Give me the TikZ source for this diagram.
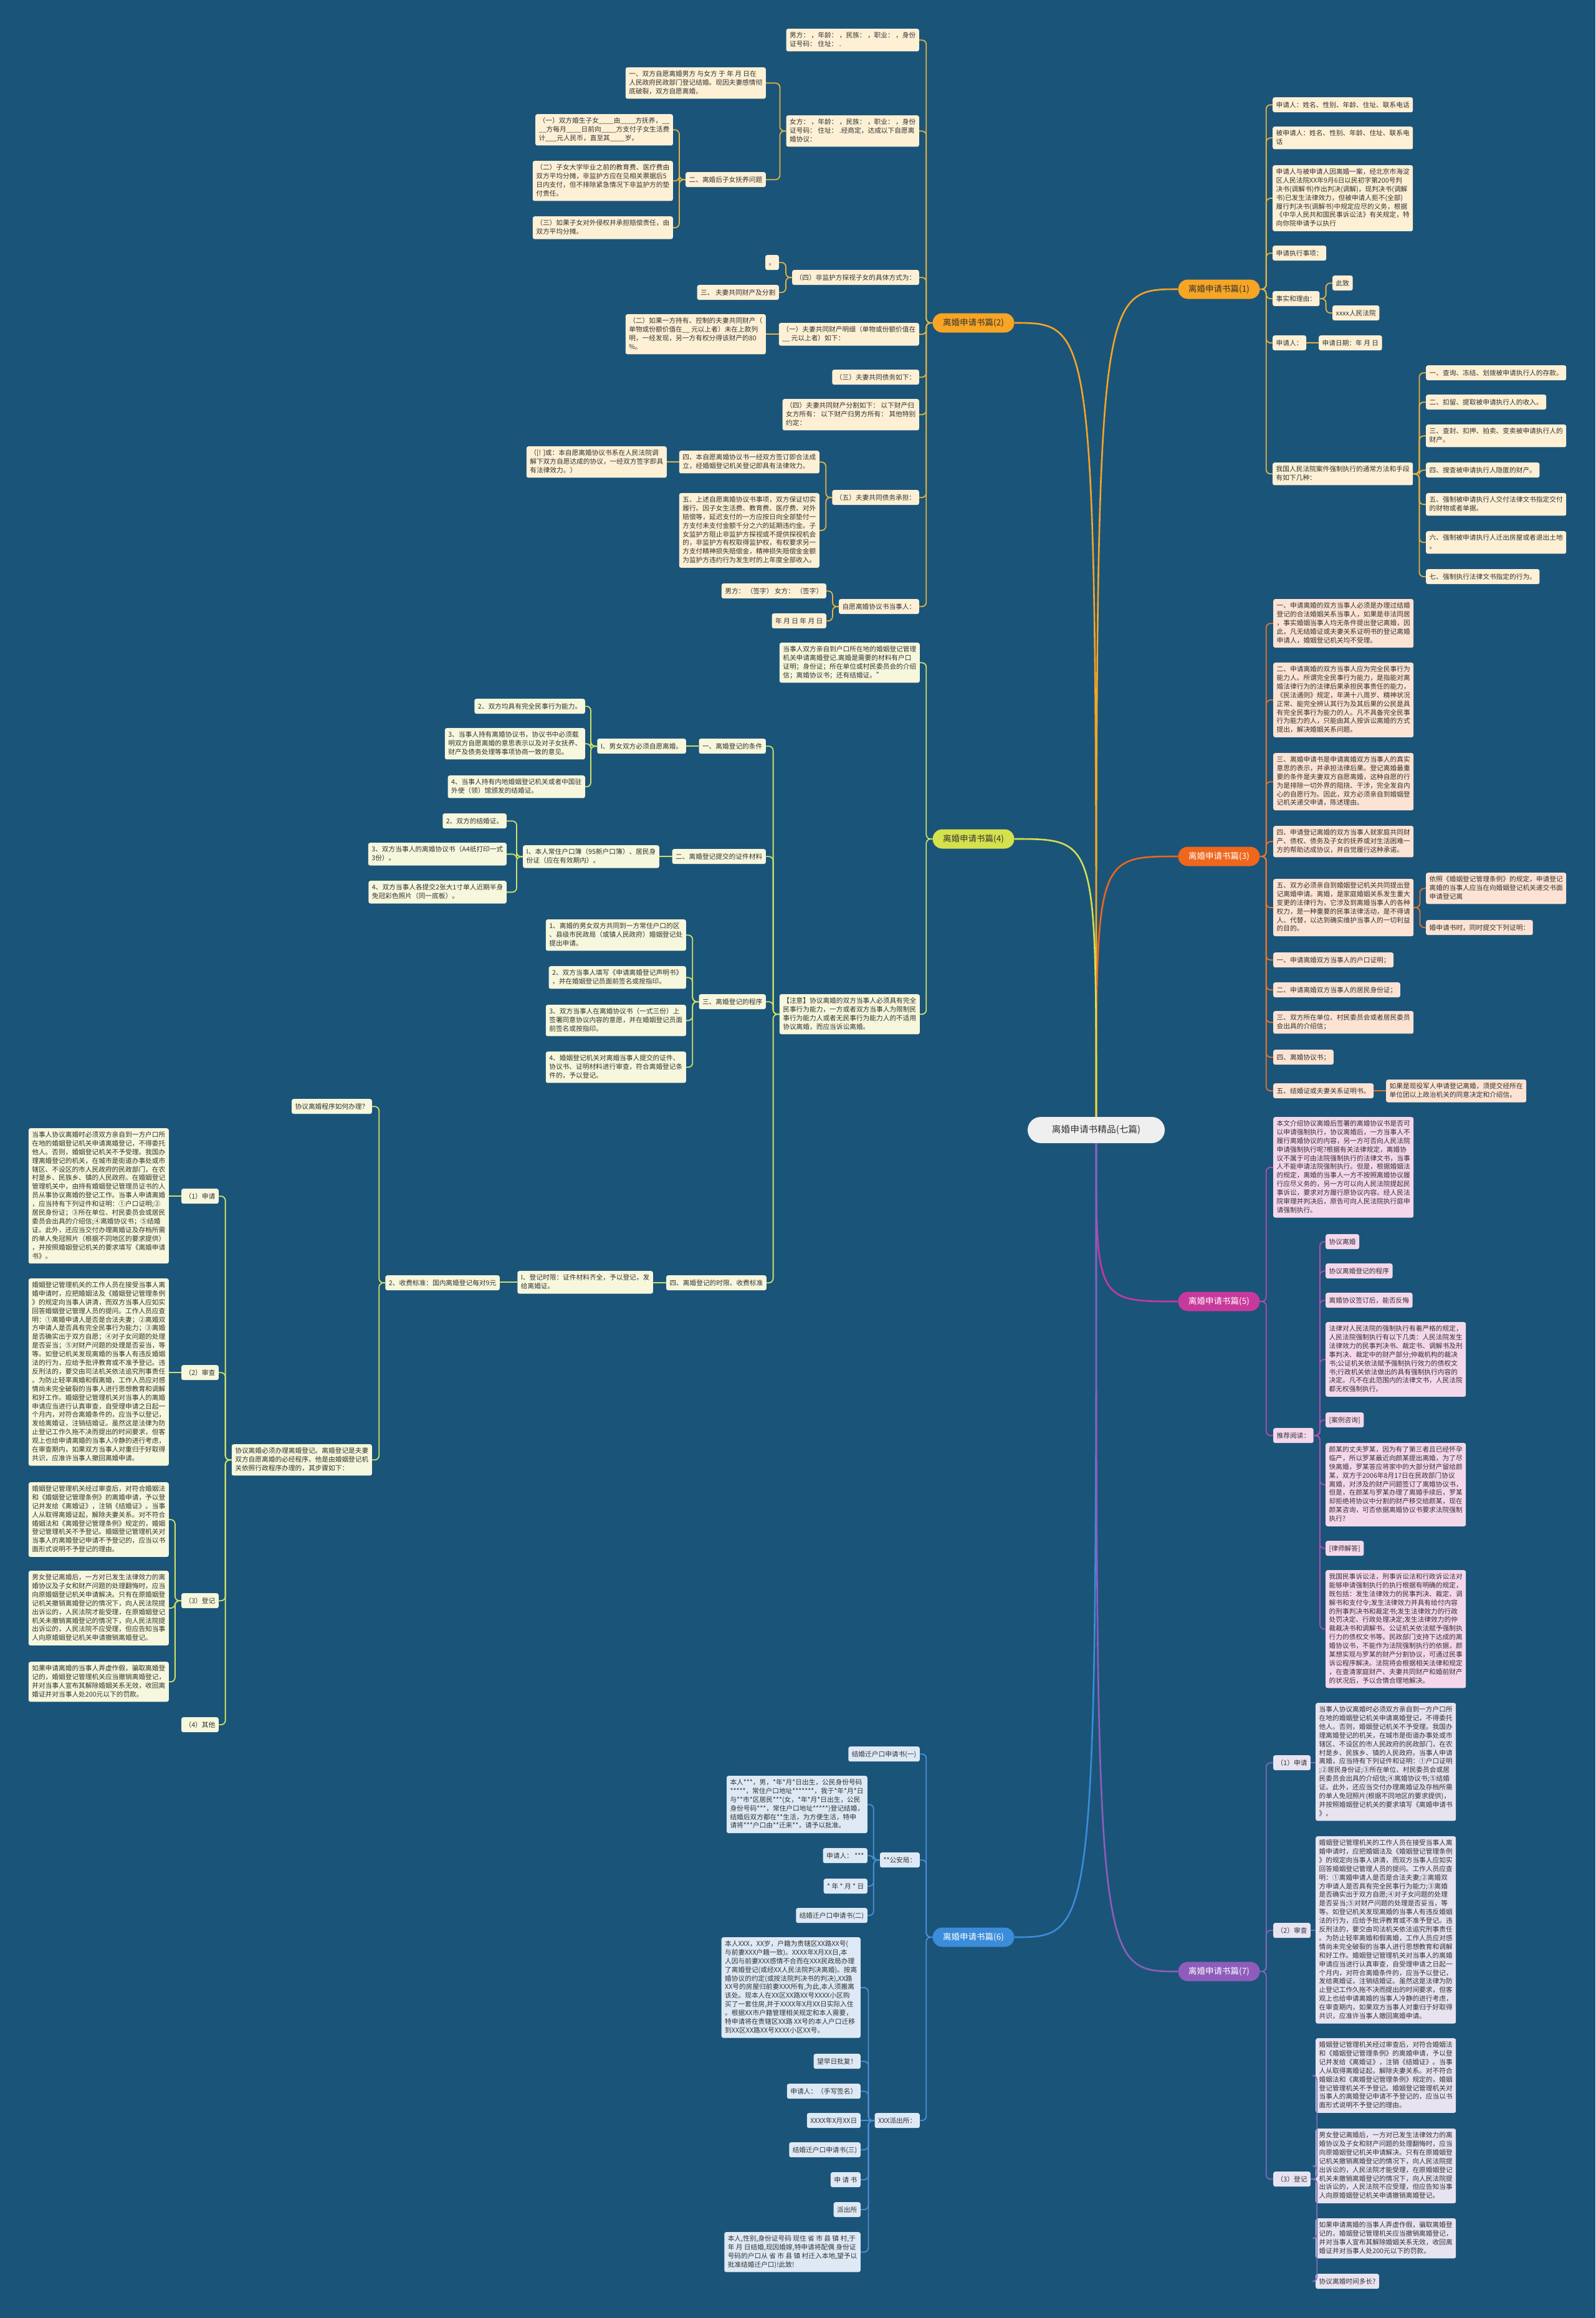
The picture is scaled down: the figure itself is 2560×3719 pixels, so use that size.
\documentclass[tikz,border=0pt]{standalone}
\usepackage{fontspec}
\newfontfamily\cjk{Noto Sans CJK SC}
\definecolor{bg}{HTML}{1B5479}
\definecolor{txt}{HTML}{333333}
\definecolor{rootf}{HTML}{EFEFEF}
\definecolor{o1}{HTML}{F6A524}
\definecolor{cr1}{HTML}{FDF0D5}
\definecolor{ln1}{HTML}{E5B33E}
\definecolor{o3}{HTML}{EE671C}
\definecolor{cr3}{HTML}{FCE3D3}
\definecolor{ln3}{HTML}{E8742B}
\definecolor{o4}{HTML}{D5E14D}
\definecolor{cr4}{HTML}{F6F7DC}
\definecolor{ln4}{HTML}{CDE264}
\definecolor{o5}{HTML}{C8399C}
\definecolor{cr5}{HTML}{F5D7EC}
\definecolor{ln5}{HTML}{B54DAE}
\definecolor{o6}{HTML}{3B8CDA}
\definecolor{cr6}{HTML}{DDE9F5}
\definecolor{ln6}{HTML}{4A90D9}
\definecolor{o7}{HTML}{8E5DBB}
\definecolor{cr7}{HTML}{E8E3F1}
\definecolor{ln7}{HTML}{7D6CB7}
\newcommand\cR[3]{\foreach \ch in {#3}{\draw[#1] (#2.east) -- ++(10,0) |- (\ch.west);}}
\newcommand\cL[3]{\foreach \ch in {#3}{\draw[#1] (#2.west) -- ++(-10,0) |- (\ch.east);}}
\newcommand\sR[3]{\draw[#1] (#2.east) -- (#2.east -| #3.west);}
\newcommand\sL[3]{\draw[#1] (#2.west) -- (#2.west -| #3.east);}
\tikzset{
  bx/.style={font=\cjk\fontsize{10.7}{13.9}\selectfont, text=txt, rounded corners=3pt,
    inner xsep=5.5pt, inner ysep=5.2pt, align=left,
    execute at begin node={\rule[-2.9pt]{0pt}{13.5pt}},
    execute at end node={\rule[-2.9pt]{0pt}{13.5pt}}},
  k1/.style={bx, fill=cr1}, k3/.style={bx, fill=cr3}, k4/.style={bx, fill=cr4},
  k5/.style={bx, fill=cr5}, k6/.style={bx, fill=cr6}, k7/.style={bx, fill=cr7},
  brn/.style={font=\cjk\fontsize{13.5}{15}\selectfont, rounded corners=15.5pt,
    minimum width=131pt, minimum height=31pt, inner sep=0pt},
  rootst/.style={font=\cjk\fontsize{14.7}{17}\selectfont, fill=rootf, text=txt,
    rounded corners=21pt, minimum width=220pt, minimum height=42pt, inner sep=0pt},
  e1/.style={draw=ln1, line width=1.8pt, rounded corners=7pt},
  e3/.style={draw=ln3, line width=1.8pt, rounded corners=7pt},
  e4/.style={draw=ln4, line width=1.8pt, rounded corners=7pt},
  e5/.style={draw=ln5, line width=1.8pt, rounded corners=7pt},
  e6/.style={draw=ln6, line width=1.8pt, rounded corners=7pt},
  e7/.style={draw=ln7, line width=1.8pt, rounded corners=7pt},
  mainln/.style={line width=2.6pt},
}
\begin{document}
\begin{tikzpicture}[x=1pt,y=-1pt]
\useasboundingbox (0,0) rectangle (2560,3719);
\fill[bg] (0,0) rectangle (2560,3719);

% ---------- root and branches ----------
\node[rootst] (root) at (1759,1813) {离婚申请书精品(七篇)};
\node[brn, fill=o1, text=txt] (n1) at (1956,464) {离婚申请书篇(1)};
\node[brn, fill=o1, text=txt] (n2) at (1562,518) {离婚申请书篇(2)};
\node[brn, fill=o3, text=white] (n3) at (1956,1374) {离婚申请书篇(3)};
\node[brn, fill=o4, text=txt] (n4) at (1562,1346) {离婚申请书篇(4)};
\node[brn, fill=o5, text=white] (n5) at (1956,2088) {离婚申请书篇(5)};
\node[brn, fill=o6, text=white] (n6) at (1562,3108) {离婚申请书篇(6)};
\node[brn, fill=o7, text=white] (n7) at (1956,3163) {离婚申请书篇(7)};

\draw[mainln, o1] (root.north) .. controls (root.north |- n1.west) .. (n1.west);
\draw[mainln, o1] (root.north) .. controls (root.north |- n2.east) .. (n2.east);
\draw[mainln, o3] (root.north) .. controls (root.north |- n3.west) .. (n3.west);
\draw[mainln, o4] (root.north) .. controls (root.north |- n4.east) .. (n4.east);
\draw[mainln, o5] (root.south) .. controls (root.south |- n5.west) .. (n5.west);
\draw[mainln, o6] (root.south) .. controls (root.south |- n6.east) .. (n6.east);
\draw[mainln, o7] (root.south) .. controls (root.south |- n7.west) .. (n7.west);

% ---------- branch 1 ----------
\node[k1, anchor=north west] (n1a) at (2042,156) {申请人：姓名、性别、年龄、住址、联系电话};
\node[k1, anchor=north west] (n1b) at (2042,203) {被申请人：姓名、性别、年龄、住址、联系电\\话};
\node[k1, anchor=north west] (n1c) at (2042,265) {申请人与被申请人因离婚一案，经北京市海淀\\区人民法院XX年9月6日以民初字第200号判\\决书(调解书)作出判决(调解)，现判决书(调解\\书)已发生法律效力，但被申请人拒不(全部)\\履行判决书(调解书)中规定应尽的义务，根据\\《中华人民共和国民事诉讼法》有关规定，特\\向你院申请予以执行};
\node[k1, anchor=north west] (n1d) at (2042,394) {申请执行事项：};
\node[k1, anchor=north west] (n1e) at (2042,467) {事实和理由：};
\node[k1, anchor=north west] (n1e1) at (2138,442) {此致};
\node[k1, anchor=north west] (n1e2) at (2138,490) {xxxx人民法院};
\node[k1, anchor=north west] (n1f) at (2042,538) {申请人：};
\node[k1, anchor=north west] (n1f1) at (2116,538) {申请日期：年 月 日};
\node[k1, anchor=north west] (n1g) at (2042,742) {我国人民法院案件强制执行的通常方法和手段\\有如下几种：};
\node[k1, anchor=north west] (n1g1) at (2288,586) {一、查询、冻结、划拨被申请执行人的存款。};
\node[k1, anchor=north west] (n1g2) at (2288,633) {二、扣留、提取被申请执行人的收入。};
\node[k1, anchor=north west] (n1g3) at (2288,681) {三、查封、扣押、拍卖、变卖被申请执行人的\\财产。};
\node[k1, anchor=north west] (n1g4) at (2288,742) {四、搜查被申请执行人隐匿的财产。};
\node[k1, anchor=north west] (n1g5) at (2288,791) {五、强制被申请执行人交付法律文书指定交付\\的财物或者单据。};
\node[k1, anchor=north west] (n1g6) at (2288,852) {六、强制被申请执行人迁出房屋或者退出土地\\。};
\node[k1, anchor=north west] (n1g7) at (2288,913) {七、强制执行法律文书指定的行为。};
\cR{e1}{n1}{n1a,n1b,n1c,n1d,n1e,n1f,n1g}
\cR{e1}{n1e}{n1e1,n1e2}
\sR{e1}{n1f}{n1f1}
\cR{e1}{n1g}{n1g1,n1g2,n1g3,n1g4,n1g5,n1g6,n1g7}

% ---------- branch 2 ----------
\node[k1, anchor=north east] (n2a) at (1475,46) {男方： ，年龄： ，民族： ，职业： ，身份\\证号码： 住址： .};
\node[k1, anchor=north east] (n2b) at (1475,185) {女方： ，年龄： ，民族： ，职业： ，身份\\证号码： 住址： .经商定，达成以下自愿离\\婚协议：};
\node[k1, anchor=north east] (n2b1) at (1229,108) {一、双方自愿离婚男方 与女方 于 年 月 日在\\人民政府民政部门登记结婚。现因夫妻感情彻\\底破裂，双方自愿离婚。};
\node[k1, anchor=north east] (n2b2) at (1229,276) {二、离婚后子女抚养问题};
\node[k1, anchor=north east] (n2b2a) at (1080,183) {（一）双方婚生子女\_\_\_\_由\_\_\_\_方抚养，\_\_\\\_\_方每月\_\_\_\_日前向\_\_\_\_方支付子女生活费\\计\_\_\_元人民币，直至其\_\_\_\_岁。};
\node[k1, anchor=north east] (n2b2b) at (1080,258) {（二）子女大学毕业之前的教育费、医疗费由\\双方平均分摊，非监护方应在见相关票据后5\\日内支付，但不排除紧急情况下非监护方的垫\\付责任。};
\node[k1, anchor=north east] (n2b2c) at (1080,347) {（三）如果子女对外侵权并承担赔偿责任，由\\双方平均分摊。};
\node[k1, anchor=north east] (n2c) at (1475,433) {（四）非监护方探视子女的具体方式为：};
\node[k1, anchor=north east] (n2c1) at (1250,409) {。};
\node[k1, anchor=north east] (n2c2) at (1250,457) {三、 夫妻共同财产及分割};
\node[k1, anchor=north east] (n2d) at (1475,518) {（一）夫妻共同财产明细（单物或份额价值在\\\_\_ 元以上者）如下：};
\node[k1, anchor=north east] (n2d1) at (1229,504) {（二）如果一方持有、控制的夫妻共同财产（\\单物或份额价值在\_\_ 元以上者）未在上款列\\明，一经发现，另一方有权分得该财产的80\\\%。};
\node[k1, anchor=north east] (n2e) at (1475,593) {（三）夫妻共同债务如下：};
\node[k1, anchor=north east] (n2f) at (1475,640) {（四）夫妻共同财产分割如下： 以下财产归\\女方所有： 以下财产归男方所有： 其他特别\\约定：};
\node[k1, anchor=north east] (n2g) at (1475,786) {（五）夫妻共同债务承担：};
\node[k1, anchor=north east] (n2g1) at (1315,723) {四、本自愿离婚协议书一经双方签订即合法成\\立，经婚姻登记机关登记即具有法律效力。};
\node[k1, anchor=north east] (n2g1a) at (1070,716) {（[! ]或：本自愿离婚协议书系在人民法院调\\解下双方自愿达成的协议，一经双方签字即具\\有法律效力。）};
\node[k1, anchor=north east] (n2g2) at (1315,791) {五、上述自愿离婚协议书事项，双方保证切实\\履行。因子女生活费、教育费、医疗费、对外\\赔偿等，延迟支付的一方应按日向全部垫付一\\方支付未支付金额千分之六的延期违约金。子\\女监护方阻止非监护方探视或不提供探视机会\\的，非监护方有权取得监护权，有权要求另一\\方支付精神损失赔偿金，精神损失赔偿金金额\\为监护方违约行为发生时的上年度全部收入。};
\node[k1, anchor=north east] (n2h) at (1475,961) {自愿离婚协议书当事人：};
\node[k1, anchor=north east] (n2h1) at (1326,936) {男方： （签字） 女方： （签字）};
\node[k1, anchor=north east] (n2h2) at (1326,984) {年 月 日 年 月 日};
\cL{e1}{n2}{n2a,n2b,n2c,n2d,n2e,n2f,n2g,n2h}
\cL{e1}{n2b}{n2b1,n2b2}
\cL{e1}{n2b2}{n2b2a,n2b2b,n2b2c}
\cL{e1}{n2c}{n2c1,n2c2}
\sL{e1}{n2d}{n2d1}
\cL{e1}{n2g}{n2g1,n2g2}
\sL{e1}{n2g1}{n2g1a}
\cL{e1}{n2h}{n2h1,n2h2}

% ---------- branch 3 ----------
\node[k3, anchor=north west] (n3a) at (2043,961) {一、申请离婚的双方当事人必须是办理过结婚\\登记的合法婚姻关系当事人，如果是非法同居\\，事实婚姻当事人均无条件提出登记离婚，因\\此，凡无结婚证或夫妻关系证明书的登记离婚\\申请人，婚姻登记机关均不受理。};
\node[k3, anchor=north west] (n3b) at (2043,1063) {二、申请离婚的双方当事人应为完全民事行为\\能力人。所谓完全民事行为能力，是指能对离\\婚法律行为的法律后果承担民事责任的能力，\\《民法通则》规定，年满十八周岁、精神状况\\正常、能完全辨认其行为及其后果的公民是具\\有完全民事行为能力的人。凡不具备完全民事\\行为能力的人，只能由其人按诉讼离婚的方式\\提出，解决婚姻关系问题。};
\node[k3, anchor=north west] (n3c) at (2043,1208) {三、离婚申请书是申请离婚双方当事人的真实\\意思的表示，并承担法律后果。登记离婚最重\\要的条件是夫妻双方自愿离婚，这种自愿的行\\为是排除一切外界的阻挠、干涉，完全发自内\\心的自愿行为。因此，双方必须亲自到婚姻登\\记机关递交申请，陈述理由。};
\node[k3, anchor=north west] (n3d) at (2043,1325) {四、申请登记离婚的双方当事人就家庭共同财\\产、债权、债务及子女的抚养或对生活困难一\\方的帮助达成协议，并自觉履行这种承诺。};
\node[k3, anchor=north west] (n3e) at (2043,1410) {五、双方必须亲自到婚姻登记机关共同提出登\\记离婚申请。离婚，是家庭婚姻关系发生重大\\变更的法律行为，它涉及到离婚当事人的各种\\权力，是一种重要的民事法律活动，是不得请\\人、代替，以达到确实维护当事人的一切利益\\的目的。};
\node[k3, anchor=north west] (n3e1) at (2288,1400) {依照《婚姻登记管理条例》的规定，申请登记\\离婚的当事人应当在向婚姻登记机关递交书面\\申请登记离};
\node[k3, anchor=north west] (n3e2) at (2288,1476) {婚申请书时，同时提交下列证明：};
\node[k3, anchor=north west] (n3f) at (2043,1528) {一、申请离婚双方当事人的户口证明；};
\node[k3, anchor=north west] (n3g) at (2043,1576) {二、申请离婚双方当事人的居民身份证；};
\node[k3, anchor=north west] (n3h) at (2043,1622) {三、双方所在单位、村民委员会或者居民委员\\会出具的介绍信；};
\node[k3, anchor=north west] (n3i) at (2043,1684) {四、离婚协议书；};
\node[k3, anchor=north west] (n3j) at (2043,1738) {五、结婚证或夫妻关系证明书。};
\node[k3, anchor=north west] (n3j1) at (2224,1732) {如果是现役军人申请登记离婚，须提交经所在\\单位团以上政治机关的同意决定和介绍信。};
\cR{e3}{n3}{n3a,n3b,n3c,n3d,n3e,n3f,n3g,n3h,n3i,n3j}
\cR{e3}{n3e}{n3e1,n3e2}
\sR{e3}{n3j}{n3j1}

% ---------- branch 4 ----------
\node[k4, anchor=north east] (n4a) at (1476,1031) {当事人双方亲自到户口所在地的婚姻登记管理\\机关申请离婚登记.离婚是需要的材料有户口\\证明；身份证；所在单位或村民委员会的介绍\\信；离婚协议书；还有结婚证。”};
\node[k4, anchor=north east] (n4b) at (1476,1595) {【注意】协议离婚的双方当事人必须具有完全\\民事行为能力，一方或者双方当事人为限制民\\事行为能力人或者无民事行为能力人的不适用\\协议离婚，而应当诉讼离婚。};
\node[k4, anchor=north east] (n4b1) at (1229,1185) {一、离婚登记的条件};
\node[k4, anchor=north east] (n4b1a) at (1101,1185) {I、男女双方必须自愿离婚。};
\node[k4, anchor=north east] (n4b1a1) at (939,1121) {2、双方均具有完全民事行为能力。};
\node[k4, anchor=north east] (n4b1a2) at (939,1168) {3、当事人持有离婚协议书，协议书中必须载\\明双方自愿离婚的意思表示以及对子女抚养、\\财产及债务处理等事项协商一致的意见。};
\node[k4, anchor=north east] (n4b1a3) at (939,1244) {4、当事人持有内地婚姻登记机关或者中国驻\\外使（领）馆颁发的结婚证。};
\node[k4, anchor=north east] (n4b2) at (1229,1362) {二、离婚登记提交的证件材料};
\node[k4, anchor=north east] (n4b2a) at (1058,1356) {I、本人常住户口簿（95新户口簿）、居民身\\份证（应在有效期内）。};
\node[k4, anchor=north east] (n4b2a1) at (813,1305) {2、双方的结婚证。};
\node[k4, anchor=north east] (n4b2a2) at (813,1352) {3、双方当事人的离婚协议书（A4纸打印一式\\3份）。};
\node[k4, anchor=north east] (n4b2a3) at (813,1413) {4、双方当事人各提交2张大1寸单人近期半身\\免冠彩色照片（同一底板）。};
\node[k4, anchor=north east] (n4b3) at (1229,1595) {三、离婚登记的程序};
\node[k4, anchor=north east] (n4b3a) at (1101,1475) {1、离婚的男女双方共同到一方常住户口的区\\、县级市民政局（或镇人民政府）婚姻登记处\\提出申请。};
\node[k4, anchor=north east] (n4b3b) at (1101,1550) {2、双方当事人填写《申请离婚登记声明书》\\，并在婚姻登记员面前签名或按指印。};
\node[k4, anchor=north east] (n4b3c) at (1101,1612) {3、双方当事人在离婚协议书（一式三份）上\\签署同意协议内容的意愿，并在婚姻登记员面\\前签名或按指印。};
\node[k4, anchor=north east] (n4b3d) at (1101,1687) {4、婚姻登记机关对离婚当事人提交的证件、\\协议书、证明材料进行审查，符合离婚登记条\\件的，予以登记。};
\node[k4, anchor=north east] (n4b4) at (1230,2046) {四、离婚登记的时限、收费标准};
\node[k4, anchor=north east] (n4b4a) at (1048,2039) {I、登记时限：证件材料齐全，予以登记，发\\给离婚证。};
\node[k4, anchor=north east] (n4b4a1) at (802,2046) {2、收费标准：国内离婚登记每对9元};
\node[k4, anchor=north east] (n4q) at (597,1763) {协议离婚程序如何办理？};
\node[k4, anchor=north east] (n4r) at (597,2317) {协议离婚必须办理离婚登记。离婚登记是夫妻\\双方自愿离婚的必经程序。他是由婚姻登记机\\关依照行政程序办理的，其步骤如下：};
\node[k4, anchor=north east] (n4r1) at (351,1907) {（1）申请};
\node[k4, anchor=north east] (n4r1a) at (271,1810) {当事人协议离婚时必须双方亲自到一方户口所\\在地的婚姻登记机关申请离婚登记，不得委托\\他人。否则，婚姻登记机关不予受理。我国办\\理离婚登记的机关，在城市是街道办事处或市\\辖区、不设区的市人民政府的民政部门，在农\\村是乡、民族乡、镇的人民政府。在婚姻登记\\管理机关中，由持有婚姻登记管理员证书的人\\员从事协议离婚的登记工作。当事人申请离婚\\，应当持有下列证件和证明：①户口证明;②\\居民身份证；③所在单位、村民委员会或居民\\委员会出具的介绍信;④离婚协议书；⑤结婚\\证。此外，还应当交付办理离婚证及存档所需\\的单人免冠照片（根据不同地区的要求提供）\\，并按照婚姻登记机关的要求填写《离婚申请\\书》。};
\node[k4, anchor=north east] (n4r2) at (351,2190) {（2）审查};
\node[k4, anchor=north east] (n4r2a) at (271,2051) {婚姻登记管理机关的工作人员在接受当事人离\\婚申请时，应把婚姻法及《婚姻登记管理条例\\》的规定向当事人讲清，而双方当事人应如实\\回答婚姻登记管理人员的提问。工作人员应查\\明：①离婚申请人是否是合法夫妻；②离婚双\\方申请人是否具有完全民事行为能力；③离婚\\是否确实出于双方自愿；④对子女问题的处理\\是否妥当；⑤对财产问题的处理是否妥当，等\\等。如登记机关发现离婚的当事人有违反婚姻\\法的行为，应给予批评教育或不准予登记。违\\反刑法的，要交由司法机关依法追究刑事责任\\。为防止轻率离婚和假离婚，工作人员应对感\\情尚未完全破裂的当事人进行思想教育和调解\\和好工作。婚姻登记管理机关对当事人的离婚\\申请应当进行认真审查，自受理申请之日起一\\个月内，对符合离婚条件的，应当予以登记，\\发给离婚证，注销结婚证。虽然这是法律为防\\止登记工作久拖不决而提出的时间要求，但客\\观上也给申请离婚的当事人冷静的进行考虑，\\在审查期内，如果双方当事人对重归于好取得\\共识，应准许当事人撤回离婚申请。};
\node[k4, anchor=north east] (n4r3) at (351,2556) {（3）登记};
\node[k4, anchor=north east] (n4r3a) at (271,2378) {婚姻登记管理机关经过审查后，对符合婚姻法\\和《婚姻登记管理条例》的离婚申请，予以登\\记并发给《离婚证》，注销《结婚证》。当事\\人从取得离婚证起，解除夫妻关系。对不符合\\婚姻法和《离婚登记管理条例》规定的，婚姻\\登记管理机关不予登记。婚姻登记管理机关对\\当事人的离婚登记申请不予登记的，应当以书\\面形式说明不予登记的理由。};
\node[k4, anchor=north east] (n4r3b) at (271,2520) {男女登记离婚后，一方对已发生法律效力的离\\婚协议及子女和财产问题的处理翻悔时，应当\\向原婚姻登记机关申请解决。只有在原婚姻登\\记机关撤销离婚登记的情况下，向人民法院提\\出诉讼的，人民法院才能受理，在原婚姻登记\\机关未撤销离婚登记的情况下，向人民法院提\\出诉讼的，人民法院不应受理，但应告知当事\\人向原婚姻登记机关申请撤销离婚登记。};
\node[k4, anchor=north east] (n4r3c) at (271,2666) {如果申请离婚的当事人弄虚作假，骗取离婚登\\记的，婚姻登记管理机关应当撤销离婚登记，\\并对当事人宣布其解除婚姻关系无效，收回离\\婚证并对当事人处200元以下的罚款。};
\node[k4, anchor=north east] (n4r4) at (351,2755) {（4）其他};
\cL{e4}{n4}{n4a,n4b}
\cL{e4}{n4b}{n4b1,n4b2,n4b3,n4b4}
\sL{e4}{n4b1}{n4b1a}
\cL{e4}{n4b1a}{n4b1a1,n4b1a2,n4b1a3}
\sL{e4}{n4b2}{n4b2a}
\cL{e4}{n4b2a}{n4b2a1,n4b2a2,n4b2a3}
\cL{e4}{n4b3}{n4b3a,n4b3b,n4b3c,n4b3d}
\sL{e4}{n4b4}{n4b4a}
\sL{e4}{n4b4a}{n4b4a1}
\cL{e4}{n4b4a1}{n4q,n4r}
\cL{e4}{n4r}{n4r1,n4r2,n4r3,n4r4}
\sL{e4}{n4r1}{n4r1a}
\sL{e4}{n4r2}{n4r2a}
\cL{e4}{n4r3}{n4r3a,n4r3b,n4r3c}

% ---------- branch 5 ----------
\node[k5, anchor=north west] (n5a) at (2043,1792) {本文介绍协议离婚后签署的离婚协议书是否可\\以申请强制执行，协议离婚后，一方当事人不\\履行离婚协议的内容，另一方可否向人民法院\\申请强制执行呢?根据有关法律规定，离婚协\\议不属于可由法院强制执行的法律文书，当事\\人不能申请法院强制执行。但是，根据婚姻法\\的规定，离婚的当事人一方不按照离婚协议履\\行应尽义务的，另一方可以向人民法院提起民\\事诉讼，要求对方履行原协议内容。经人民法\\院审理并判决后，原告可向人民法院执行庭申\\请强制执行。};
\node[k5, anchor=north west] (n5b) at (2043,2291) {推荐阅读：};
\node[k5, anchor=north west] (n5b1) at (2127,1980) {协议离婚};
\node[k5, anchor=north west] (n5b2) at (2127,2027) {协议离婚登记的程序};
\node[k5, anchor=north west] (n5b3) at (2127,2074) {离婚协议签订后，能否反悔};
\node[k5, anchor=north west] (n5b4) at (2127,2121) {法律对人民法院的强制执行有着严格的规定，\\人民法院强制执行有以下几类：人民法院发生\\法律效力的民事判决书、裁定书、调解书及刑\\事判决、裁定中的财产部分;仲裁机构的裁决\\书;公证机关依法赋予强制执行效力的债权文\\书;行政机关依法做出的具有强制执行内容的\\决定。凡不在此范围内的法律文书，人民法院\\都无权强制执行。};
\node[k5, anchor=north west] (n5b5) at (2127,2266) {[案例咨询]};
\node[k5, anchor=north west] (n5b6) at (2127,2315) {颜某的丈夫罗某，因为有了第三者且已经怀孕\\临产，所以罗某最近向颜某提出离婚，为了尽\\快离婚，罗某答应将家中的大部分财产留给颜\\某，双方于2006年8月17日在民政部门协议\\离婚，对涉及的财产问题签订了离婚协议书，\\但是，在颜某与罗某办理了离婚手续后，罗某\\却拒绝将协议中分割的财产移交给颜某，现在\\颜某咨询，可否依据离婚协议书要求法院强制\\执行?};
\node[k5, anchor=north west] (n5b7) at (2127,2472) {[律师解答]};
\node[k5, anchor=north west] (n5b8) at (2127,2519) {我国民事诉讼法，刑事诉讼法和行政诉讼法对\\能够申请强制执行的执行根据有明确的规定，\\既包括：发生法律效力的民事判决、裁定、调\\解书和支付令;发生法律效力并具有给付内容\\的刑事判决书和裁定书;发生法律效力的行政\\处罚决定、行政处理决定;发生法律效力的仲\\裁裁决书和调解书。公证机关依法赋予强制执\\行力的债权文书等。民政部门支持下达成的离\\婚协议书，不能作为法院强制执行的依据，颜\\某想实现与罗某的财产分割协议，可通过民事\\诉讼程序解决。法院将会根据相关法律和规定\\，在查清家庭财产、夫妻共同财产和婚前财产\\的状况后，予以合情合理地解决。};
\cR{e5}{n5}{n5a,n5b}
\cR{e5}{n5b}{n5b1,n5b2,n5b3,n5b4,n5b5,n5b6,n5b7,n5b8}

% ---------- branch 6 ----------
\node[k6, anchor=north east] (n6a) at (1476,2802) {结婚迁户口申请书(一)};
\node[k6, anchor=north east] (n6b) at (1476,2972) {**公安局：};
\node[k6, anchor=north east] (n6b1) at (1392,2849) {本人***，男，*年*月*日出生，公民身份号码\\{}*****，常住户口地址*******，我于*年*月*日\\与**市*区居民***(女，*年*月*日出生，公民\\身份号码***，常住户口地址*****)登记结婚，\\ 结婚后双方都在**生活，为方便生活，特申\\请将***户口由**迁来**，请予以批准。};
\node[k6, anchor=north east] (n6b2) at (1392,2965) {申请人： ***};
\node[k6, anchor=north east] (n6b3) at (1392,3014) {* 年 * 月 * 日};
\node[k6, anchor=north east] (n6b4) at (1392,3061) {结婚迁户口申请书(二)};
\node[k6, anchor=north east] (n6c) at (1476,3390) {XXX派出所：};
\node[k6, anchor=north east] (n6c1) at (1381,3108) {本人XXX，XX岁，户籍为贵辖区XX路XX号(\\与前妻XXX户籍一致)。XXXX年X月XX日,本\\人因与前妻XXX感情不合而在XXX民政局办理\\了离婚登记(或经XX人民法院判决离婚)。按离\\婚协议的约定(或按法院判决书的判决),XX路\\XX号的房屋归前妻XXX所有,为此,本人须搬离\\该处。现本人在XX区XX路XX号XXXX小区购\\买了一套住房,并于XXXX年X月XX日实际入住\\。根据XX市户籍管理相关规定和本人需要，\\特申请将在贵辖区XX路 XX号的本人户口迁移\\到XX区XX路XX号XXXX小区XX号。};
\node[k6, anchor=north east] (n6c2) at (1381,3295) {望早日批复！};
\node[k6, anchor=north east] (n6c3) at (1381,3343) {申请人：（手写签名）};
\node[k6, anchor=north east] (n6c4) at (1381,3390) {XXXX年X月XX日};
\node[k6, anchor=north east] (n6c5) at (1381,3437) {结婚迁户口申请书(三)};
\node[k6, anchor=north east] (n6c6) at (1381,3485) {申 请 书};
\node[k6, anchor=north east] (n6c7) at (1381,3533) {派出所};
\node[k6, anchor=north east] (n6c8) at (1381,3581) {本人,性别,身份证号码 现住 省 市 县 镇 村,于\\年 月 日结婚,现因婚嫁,特申请将配偶 身份证\\号码的户口从 省 市 县 镇 村迁入本地,望予以\\批准结婚迁户口)!此致!};
\cL{e6}{n6}{n6a,n6b,n6c}
\cL{e6}{n6b}{n6b1,n6b2,n6b3,n6b4}
\cL{e6}{n6c}{n6c1,n6c2,n6c3,n6c5,n6c6,n6c7,n6c8}
\sL{e6}{n6c}{n6c4}

% ---------- branch 7 ----------
\node[k7, anchor=north west] (n7a) at (2043,2816) {（1）申请};
\node[k7, anchor=north west] (n7a1) at (2111,2732) {当事人协议离婚时必须双方亲自到一方户口所\\在地的婚姻登记机关申请离婚登记，不得委托\\他人。否则，婚姻登记机关不予受理。我国办\\理离婚登记的机关，在城市是街道办事处或市\\辖区、不设区的市人民政府的民政部门，在农\\村是乡、民族乡、镇的人民政府。当事人申请\\离婚，应当持有下列证件和证明：①户口证明\\;②居民身份证;③所在单位、村民委员会或居\\民委员会出具的介绍信;④离婚协议书;⑤结婚\\证。此外，还应当交付办理离婚证及存档所需\\的单人免冠照片(根据不同地区的要求提供)，\\并按照婚姻登记机关的要求填写《离婚申请书\\》。};
\node[k7, anchor=north west] (n7b) at (2043,3085) {（2）审查};
\node[k7, anchor=north west] (n7b1) at (2111,2946) {婚姻登记管理机关的工作人员在接受当事人离\\婚申请时，应把婚姻法及《婚姻登记管理条例\\》的规定向当事人讲清，而双方当事人应如实\\回答婚姻登记管理人员的提问。工作人员应查\\明：①离婚申请人是否是合法夫妻;②离婚双\\方申请人是否具有完全民事行为能力;③离婚\\是否确实出于双方自愿;④对子女问题的处理\\是否妥当;⑤对财产问题的处理是否妥当，等\\等。如登记机关发现离婚的当事人有违反婚姻\\法的行为，应给予批评教育或不准予登记。违\\反刑法的，要交由司法机关依法追究刑事责任\\。为防止轻率离婚和假离婚，工作人员应对感\\情尚未完全破裂的当事人进行思想教育和调解\\和好工作。婚姻登记管理机关对当事人的离婚\\申请应当进行认真审查，自受理申请之日起一\\个月内，对符合离婚条件的，应当予以登记，\\发给离婚证，注销结婚证。虽然这是法律为防\\止登记工作久拖不决而提出的时间要求，但客\\观上也给申请离婚的当事人冷静的进行考虑，\\在审查期内，如果双方当事人对重归于好取得\\共识，应准许当事人撤回离婚申请。};
\node[k7, anchor=north west] (n7c) at (2043,3484) {（3）登记};
\node[k7, anchor=north west] (n7c1) at (2111,3270) {婚姻登记管理机关经过审查后，对符合婚姻法\\和《婚姻登记管理条例》的离婚申请，予以登\\记并发给《离婚证》，注销《结婚证》。当事\\人从取得离婚证起，解除夫妻关系。对不符合\\婚姻法和《离婚登记管理条例》规定的，婚姻\\登记管理机关不予登记。婚姻登记管理机关对\\当事人的离婚登记申请不予登记的，应当以书\\面形式说明不予登记的理由。};
\node[k7, anchor=north west] (n7c2) at (2111,3415) {男女登记离婚后，一方对已发生法律效力的离\\婚协议及子女和财产问题的处理翻悔时，应当\\向原婚姻登记机关申请解决。只有在原婚姻登\\记机关撤销离婚登记的情况下，向人民法院提\\出诉讼的，人民法院才能受理，在原婚姻登记\\机关未撤销离婚登记的情况下，向人民法院提\\出诉讼的，人民法院不应受理，但应告知当事\\人向原婚姻登记机关申请撤销离婚登记。};
\node[k7, anchor=north west] (n7c3) at (2111,3559) {如果申请离婚的当事人弄虚作假，骗取离婚登\\记的，婚姻登记管理机关应当撤销离婚登记，\\并对当事人宣布其解除婚姻关系无效，收回离\\婚证并对当事人处200元以下的罚款。};
\node[k7, anchor=north west] (n7c4) at (2111,3648) {协议离婚时间多长?};
\cR{e7}{n7}{n7a,n7b,n7c}
\sR{e7}{n7a}{n7a1}
\sR{e7}{n7b}{n7b1}
\cR{e7}{n7c}{n7c1,n7c2,n7c3,n7c4}
\end{tikzpicture}
\end{document}
